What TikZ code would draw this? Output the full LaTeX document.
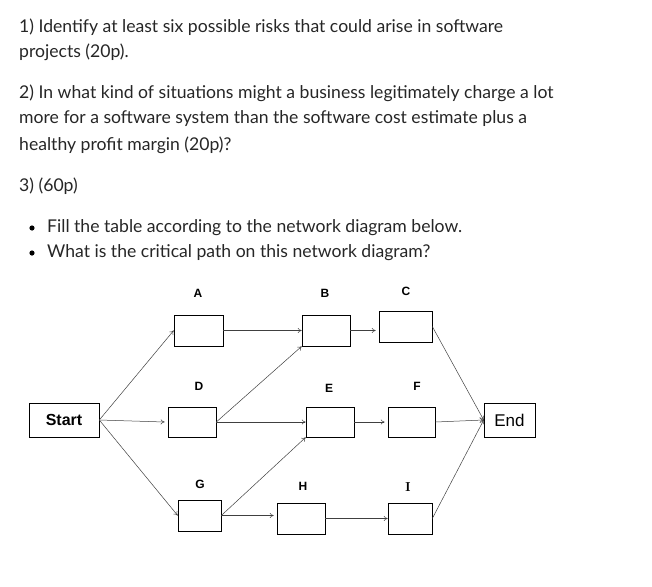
\documentclass[tikz,border=0pt]{standalone}
\usepackage{fontspec}
\setmainfont{Lato}
\newfontfamily\arialf{Liberation Sans}
\usetikzlibrary{arrows.meta}
\begin{document}
\begin{tikzpicture}[x=1pt,y=-1pt,
  txt/.style={anchor=west,inner sep=0,font=\fontsize{17.6}{20}\selectfont,text=black!85},
  box/.style={draw,line width=0.6pt,inner sep=0,minimum height=31pt},
  lab/.style={font=\arialf\bfseries\fontsize{12}{14}\selectfont},
  ar/.style={draw=black!75,line width=0.5pt,-{To[length=4pt,width=5pt]}}]
\useasboundingbox (0,0) rectangle (652,586);
\node[txt] (t1) at (19,27) {1) Identify at least six possible risks that could arise in software};
\node[txt] (t2) at (19,52) {projects (20p).};
\node[txt] (t3) at (19,93) {2) In what kind of situations might a business legitimately charge a lot};
\node[txt] (t4) at (19,119) {more for a software system than the software cost estimate plus a};
\node[txt] (t5) at (19,145) {healthy profit margin (20p)?};
\node[txt] (t6) at (19,186) {3) (60p)};
\node[txt] (t7) at (47,228) {Fill the table according to the network diagram below.};
\node[txt] (t8) at (47,253) {What is the critical path on this network diagram?};
\fill (32,228) circle (2.6pt);
\fill (32,253) circle (2.6pt);
% boxes
\node[box,minimum width=70pt,minimum height=34pt,font=\arialf\bfseries\fontsize{16}{18}\selectfont] (S) at (64,420) {Start};
\node[box,minimum width=51pt,minimum height=34pt,font=\arialf\fontsize{17}{19}\selectfont] (End) at (509.5,420) {End};
\node[box,minimum width=49pt] (A) at (198.5,330.5) {};
\node[box,minimum width=48pt] (B) at (326,330.5) {};
\node[box,minimum width=53pt] (C) at (405.5,326.5) {};
\node[box,minimum width=48pt,minimum height=30pt] (D) at (192,422) {};
\node[box,minimum width=48pt,minimum height=30pt] (E) at (330,422) {};
\node[box,minimum width=47pt,minimum height=30pt] (F) at (411.5,422) {};
\node[box,minimum width=43pt] (G) at (199.5,515.5) {};
\node[box,minimum width=48pt] (H) at (301,518.5) {};
\node[box,minimum width=44pt] (I) at (410,518.5) {};
% labels
\node[lab] (lA) at (198,293) {A};
\node[lab] (lB) at (325,293) {B};
\node[lab] (lC) at (406,291) {C};
\node[lab] (lD) at (199,386) {D};
\node[lab] (lE) at (329,388) {E};
\node[lab] (lF) at (417,386) {F};
\node[lab] (lG) at (200,484) {G};
\node[lab] (lH) at (303,486) {H};
\node[lab,font=\fontfamily{lmr}\bfseries\fontsize{13}{15}\selectfont] (lI) at (408,487) {I};
% arrows
\draw[ar] (S.east) -- (A.west);
\draw[ar] (S.east) -- ([xshift=-3pt]D.west);
\draw[ar] (S.east) -- (G.west);
\draw[ar] (A.east) -- (B.west);
\draw[ar] (B.east) -- ([xshift=-3pt]C.west |- B.east);
\draw[ar] (D.east) -- (B.south west);
\draw[ar] (D.east) -- (E.west);
\draw[ar] (E.east) -- ([xshift=-3pt]F.west);
\draw[ar] (G.east) -- (E.south west);
\draw[ar] (G.east) -- ([xshift=-3pt]H.west |- G.east);
\draw[ar] (H.east) -- (I.west);
\draw[ar] (C.east) -- (End.west);
\draw[ar] (F.east) -- (End.west);
\draw[ar] (I.east) -- (End.west);
\end{tikzpicture}
\end{document}
